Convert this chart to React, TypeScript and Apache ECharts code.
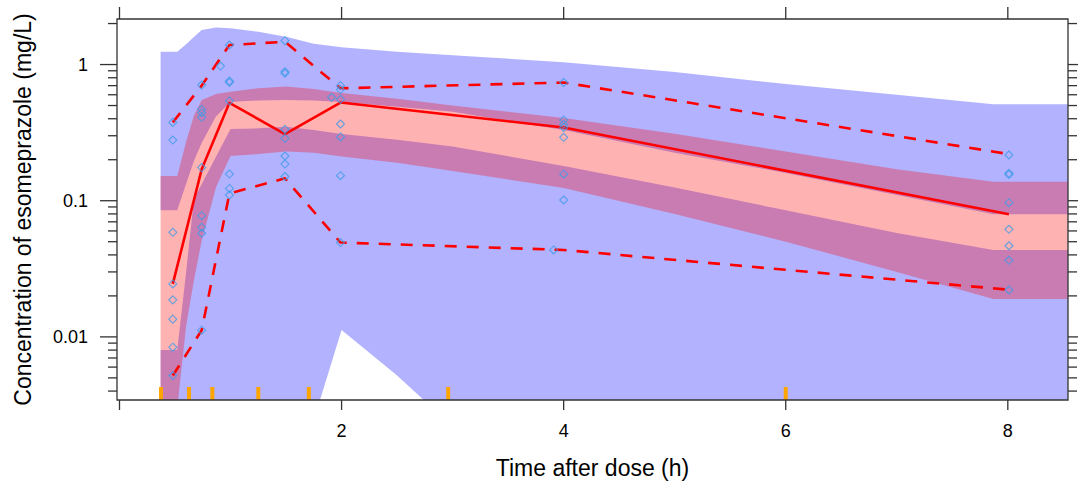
import React, { useEffect, useRef } from "react";
import * as echarts from "echarts";

// ---- axis extents ----
const xMin = -0.0225;
const xMax = 8.542;
const yMin = 0.00344;
const yMax = 2.16;

// ---- tick marks / labels ----
const xTickValues = [0, 2, 4, 6, 8];
const xTickLabels = ["", "2", "4", "6", "8"];
const yMajorTicks = [0.01, 0.1, 1];
const yMajorLabels = ["0.01", "0.1", "1"];
const yMinorTicks = [
  0.004, 0.005, 0.006, 0.007, 0.008, 0.009,
  0.02, 0.03, 0.04, 0.05, 0.06, 0.07, 0.08, 0.09,
  0.2, 0.3, 0.4, 0.5, 0.6, 0.7, 0.8, 0.9, 2,
];

// ---- bin boundaries (orange rug) ----
const binBoundaries = [0.374, 0.626, 0.836, 1.25, 1.705, 2.96, 6.0];

// ---- simulated confidence intervals ----
const bandTime = [0.37, 0.52, 0.6, 0.67, 0.74, 0.87, 1.0, 1.25, 1.5, 1.75, 2.0, 2.5, 3.0, 4.0, 5.0, 6.0, 7.0, 7.87, 8.7];
const p95CiUpper = [1.24, 1.24, 1.41, 1.59, 1.79, 1.87, 1.85, 1.74, 1.6, 1.42, 1.34, 1.24, 1.17, 1.04, 0.88, 0.72, 0.6, 0.51, 0.51];
const p95CiLower = [0.085, 0.085, 0.133, 0.196, 0.265, 0.417, 0.531, 0.545, 0.55, 0.545, 0.531, 0.49, 0.45, 0.33, 0.225, 0.16, 0.11, 0.0795, 0.0795];
const medCiUpper = [0.152, 0.152, 0.271, 0.421, 0.549, 0.607, 0.631, 0.67, 0.689, 0.66, 0.618, 0.56, 0.5, 0.405, 0.31, 0.23, 0.17, 0.138, 0.138];
const medCiLower = [0.003, 0.003, 0.012, 0.026, 0.0506, 0.126, 0.213, 0.22, 0.23, 0.225, 0.211, 0.19, 0.165, 0.124, 0.08, 0.05, 0.03, 0.019, 0.019];
const p05CiUpper = [0.008, 0.008, 0.03, 0.103, 0.132, 0.211, 0.336, 0.34, 0.35, 0.33, 0.309, 0.28, 0.25, 0.18, 0.125, 0.085, 0.058, 0.0435, 0.0435];
const p05CiLower = [0.0003, 0.0003, 0.0003, 0.0003, 0.0003, 0.0003, 0.0003, 0.0003, 0.00054, 0.00245, 0.01124, 0.0052, 0.0022, 0.001, 0.0008, 0.0006, 0.0005, 0.0004, 0.0004];

// ---- observed percentiles ----
const obsBinTime = [0.48, 0.74, 0.99, 1.49, 1.99, 4.0, 8.01];
const obsMedian = [0.0245, 0.17, 0.524, 0.308, 0.526, 0.345, 0.0795];
const obsP95 = [0.376, 0.7, 1.39, 1.47, 0.669, 0.738, 0.22];
const obsP05 = [0.0052, 0.0112, 0.113, 0.146, 0.0493, 0.0435, 0.0222];

// ---- observed concentrations ----
const pointTime = [
  0.48, 0.48, 0.48, 0.48, 0.48, 0.48, 0.48, 0.48,
  0.74, 0.74, 0.74, 0.74, 0.74, 0.74, 0.74, 0.74, 0.74,
  0.91,
  0.99, 0.99, 0.99, 0.99, 0.99, 0.99, 0.99,
  1.49, 1.49, 1.49, 1.49, 1.49, 1.49, 1.49, 1.49,
  1.91,
  1.99, 1.99, 1.99, 1.99, 1.99, 1.99, 1.99,
  3.91,
  4.0, 4.0, 4.0, 4.0, 4.0, 4.0, 4.0,
  8.01, 8.01, 8.01, 8.01, 8.01, 8.01, 8.01, 8.01,
];
const pointConc = [
  0.376, 0.279, 0.0586, 0.0245, 0.0187, 0.0135, 0.0084, 0.0052,
  0.707, 0.469, 0.443, 0.41, 0.175, 0.0776, 0.0638, 0.0577, 0.0112,
  0.975,
  1.39, 0.756, 0.74, 0.54, 0.157, 0.123, 0.11,
  1.496, 0.885, 0.862, 0.334, 0.287, 0.213, 0.186, 0.1506,
  0.574,
  0.7, 0.655, 0.555, 0.366, 0.294, 0.1527, 0.0493,
  0.0435,
  0.738, 0.391, 0.364, 0.345, 0.292, 0.1566, 0.1012,
  0.2166, 0.159, 0.1557, 0.0967, 0.0617, 0.0467, 0.0365, 0.0221,
];

const FONT = "'Liberation Sans', Arial, sans-serif";

export default function App() {
  const ref = useRef<HTMLDivElement>(null);

  useEffect(() => {
    if (!ref.current) return;
    const chart = echarts.init(ref.current, undefined, { renderer: "svg" });

    const bands = [
      { upper: p95CiUpper, lower: p95CiLower, color: "rgba(0,0,255,0.3)" },
      { upper: p05CiUpper, lower: p05CiLower, color: "rgba(0,0,255,0.3)" },
      { upper: medCiUpper, lower: medCiLower, color: "rgba(255,0,0,0.3)" },
    ];

    const isNear = (a: number, b: number) => Math.abs(a - b) < 1e-6 * Math.max(1, Math.abs(b));

    const option: any = {
      animation: false,
      grid: {
        left: 117,
        right: 10,
        top: 19,
        bottom: 89,
        show: false,
        containLabel: false,
        outerBoundsMode: "none",
      },
      xAxis: {
        type: "value",
        min: xMin,
        max: xMax,
        splitNumber: 5,
        axisLine: { show: false },
        axisTick: { show: false },
        splitLine: { show: false },
        axisLabel: {
          margin: 22,
          fontSize: 18,
          fontFamily: FONT,
          color: "#000",
          showMinLabel: false,
          showMaxLabel: false,
          formatter: (v: number) => {
            const i = xTickValues.findIndex((t) => Math.abs(t - v) < 1e-6);
            return i >= 0 ? xTickLabels[i] : "";
          },
        },
        name: "Time after dose (h)",
        nameLocation: "middle",
        nameGap: 56,
        nameTextStyle: { fontSize: 23, fontFamily: FONT, color: "#000" },
      },
      yAxis: {
        type: "log",
        logBase: 10,
        min: yMin,
        max: yMax,
        axisLine: { show: false },
        axisTick: { show: false },
        splitLine: { show: false },
        minorTick: { show: false },
        axisLabel: {
          margin: 29,
          fontSize: 18,
          fontFamily: FONT,
          color: "#000",
          showMinLabel: false,
          showMaxLabel: false,
          formatter: (v: number) => {
            const i = yMajorTicks.findIndex((t) => isNear(v, t));
            return i >= 0 ? yMajorLabels[i] : "";
          },
        },
        name: "Concentration of esomeprazole (mg/L)",
        nameLocation: "middle",
        nameGap: 83,
        nameTextStyle: { fontSize: 23, fontFamily: FONT, color: "#000" },
      },
      series: [
        {
          type: "custom",
          name: "bands",
          clip: true,
          z: 1,
          data: bands.map((_, i) => [1, 0.1, i]),
          renderItem: (params: any, api: any) => {
            const b = bands[params.dataIndex];
            const pts: number[][] = [];
            for (let i = 0; i < bandTime.length; i++) pts.push(api.coord([bandTime[i], b.upper[i]]));
            for (let i = bandTime.length - 1; i >= 0; i--) pts.push(api.coord([bandTime[i], b.lower[i]]));
            return {
              type: "polygon",
              shape: { points: pts },
              style: { fill: b.color, stroke: null },
            };
          },
        },
        {
          type: "custom",
          name: "bins",
          clip: false,
          z: 2,
          data: binBoundaries.map((t) => [t, yMin]),
          renderItem: (params: any, api: any) => {
            const p = api.coord([api.value(0), api.value(1)]);
            return {
              type: "rect",
              shape: { x: p[0] - 2, y: p[1] - 13, width: 4, height: 13 },
              style: { fill: "#FFA500" },
            };
          },
        },
        {
          type: "line",
          name: "median",
          z: 3,
          data: obsBinTime.map((t, i) => [t, obsMedian[i]]),
          showSymbol: false,
          lineStyle: { color: "#FF0000", width: 2.6, type: "solid" },
        },
        {
          type: "line",
          name: "p95",
          z: 3,
          data: obsBinTime.map((t, i) => [t, obsP95[i]]),
          showSymbol: false,
          lineStyle: { color: "#FF0000", width: 2.6, type: [12, 10] },
        },
        {
          type: "line",
          name: "p05",
          z: 3,
          data: obsBinTime.map((t, i) => [t, obsP05[i]]),
          showSymbol: false,
          lineStyle: { color: "#FF0000", width: 2.6, type: [12, 10] },
        },
        {
          type: "scatter",
          name: "observed",
          z: 4,
          symbol: "diamond",
          symbolSize: 8,
          data: pointTime.map((t, i) => [t, pointConc[i]]),
          itemStyle: { color: "rgba(0,0,0,0)", borderColor: "#3d9be9", borderWidth: 1.1 },
        },
        {
          type: "custom",
          name: "frame",
          clip: false,
          z: 10,
          data: [[1, 0.1]],
          renderItem: (params: any, api: any) => {
            const tl = api.coord([xMin, yMax]);
            const br = api.coord([xMax, yMin]);
            const stroke = { stroke: "#333", lineWidth: 1.3 };
            const children: any[] = [];
            xTickValues.forEach((t) => {
              const x = api.coord([t, yMin])[0];
              children.push({ type: "line", shape: { x1: x, y1: br[1], x2: x, y2: br[1] + 10 }, style: stroke });
              children.push({ type: "line", shape: { x1: x, y1: tl[1], x2: x, y2: tl[1] - 12 }, style: stroke });
            });
            yMajorTicks.forEach((v) => {
              const y = api.coord([xMin, v])[1];
              children.push({ type: "line", shape: { x1: tl[0] - 17, y1: y, x2: tl[0], y2: y }, style: stroke });
              children.push({ type: "line", shape: { x1: br[0], y1: y, x2: br[0] + 17, y2: y }, style: stroke });
            });
            yMinorTicks.forEach((v) => {
              const y = api.coord([xMin, v])[1];
              children.push({ type: "line", shape: { x1: tl[0] - 9, y1: y, x2: tl[0], y2: y }, style: stroke });
              children.push({ type: "line", shape: { x1: br[0], y1: y, x2: br[0] + 9, y2: y }, style: stroke });
            });
            children.push({
              type: "rect",
              shape: { x: tl[0], y: tl[1], width: br[0] - tl[0], height: br[1] - tl[1] },
              style: { fill: "none", stroke: "#333", lineWidth: 1.3 },
            });
            return { type: "group", children };
          },
        },
      ],
    };

    chart.setOption(option);
    return () => chart.dispose();
  }, []);

  return (
    <div
      ref={ref}
      style={{ position: "absolute", left: 0, top: 0, width: 1078, height: 489, background: "#fff" }}
    />
  );
}
